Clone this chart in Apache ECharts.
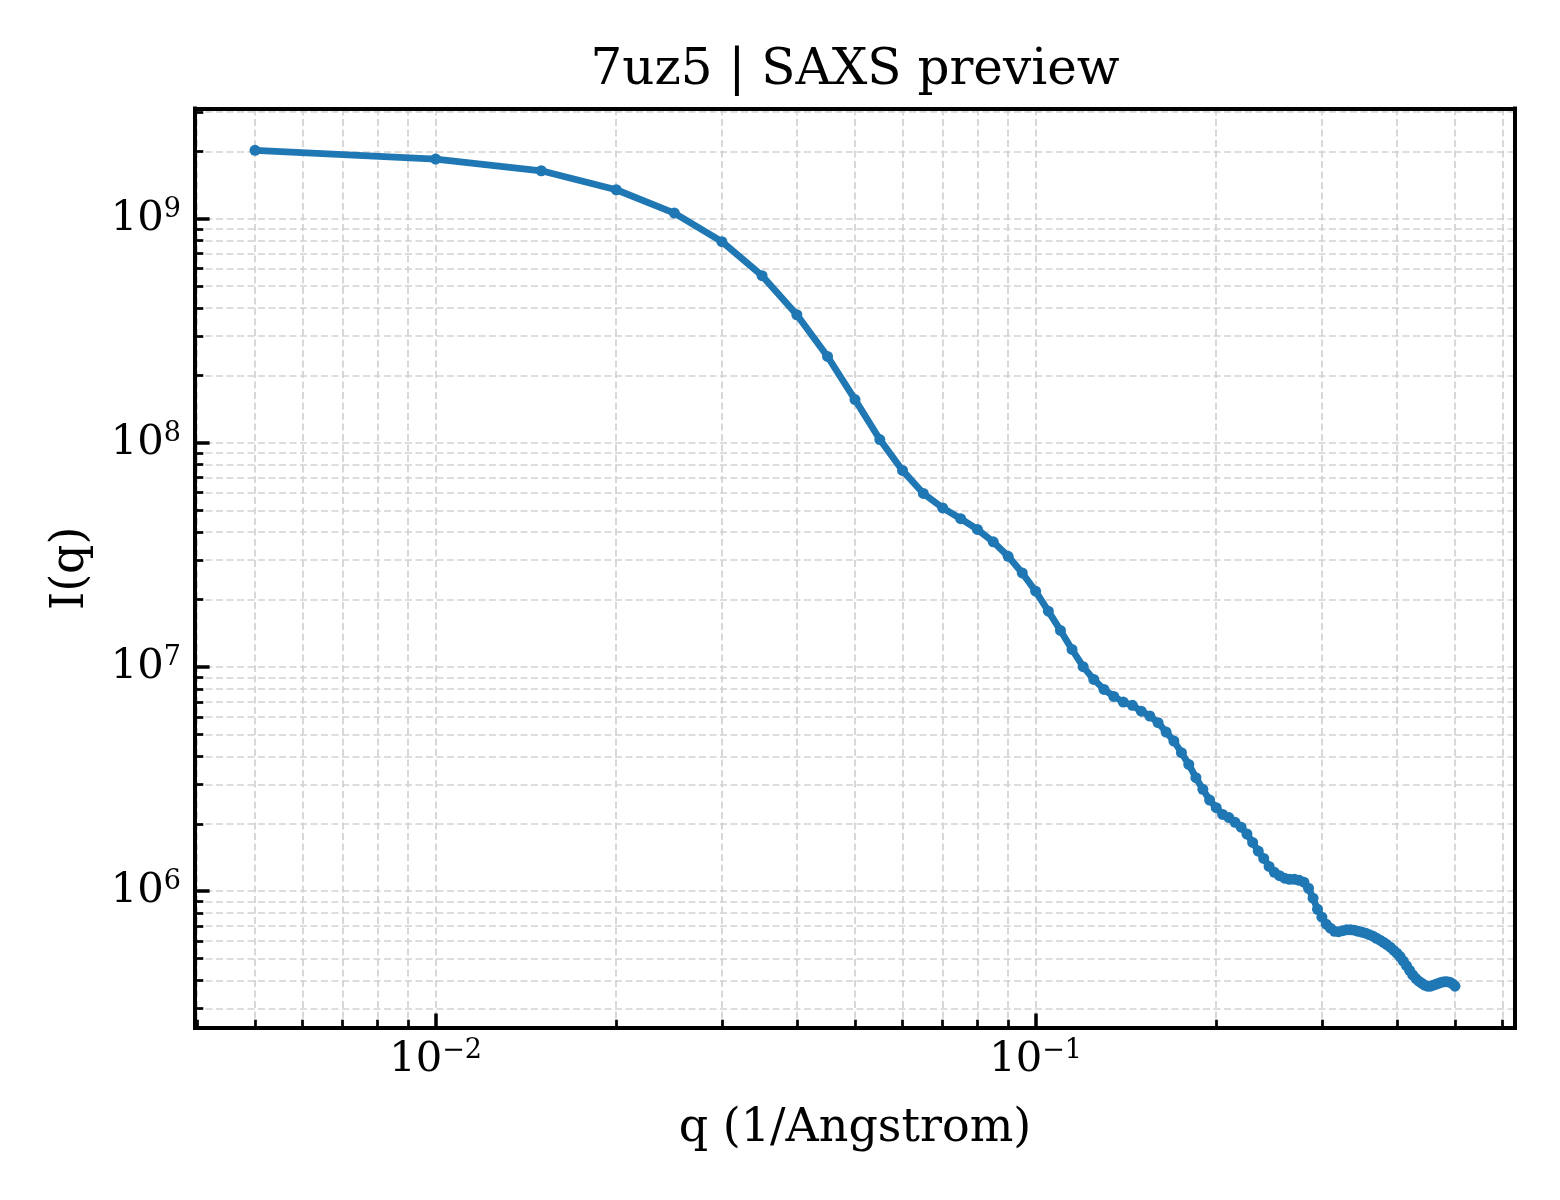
<!DOCTYPE html>
<html>
<head>
<meta charset="utf-8">
<script src="https://cdn.jsdelivr.net/npm/echarts@6/dist/echarts.min.js"></script>
<style>html,body{margin:0;padding:0;background:#fff}#chart{width:1560px;height:1200px}</style>
</head>
<body>
<div id="chart"></div>
<script>
// ---- data ----
const qValues = [
  0.005, 0.010, 0.015, 0.020, 0.025, 0.030, 0.035, 0.040, 0.045, 0.050,
  0.055, 0.060, 0.065, 0.070, 0.075, 0.080, 0.085, 0.090, 0.095, 0.100,
  0.105, 0.110, 0.115, 0.120, 0.125, 0.130, 0.135, 0.140, 0.145, 0.150,
  0.155, 0.160, 0.165, 0.170, 0.175, 0.180, 0.185, 0.190, 0.195, 0.200,
  0.205, 0.210, 0.215, 0.220, 0.225, 0.230, 0.235, 0.240, 0.245, 0.250,
  0.255, 0.260, 0.265, 0.270, 0.275, 0.280, 0.285, 0.290, 0.295, 0.300,
  0.305, 0.310, 0.315, 0.320, 0.325, 0.330, 0.335, 0.340, 0.345, 0.350,
  0.355, 0.360, 0.365, 0.370, 0.375, 0.380, 0.385, 0.390, 0.395, 0.400,
  0.405, 0.410, 0.415, 0.420, 0.425, 0.430, 0.435, 0.440, 0.445, 0.450,
  0.455, 0.460, 0.465, 0.470, 0.475, 0.480, 0.485, 0.490, 0.495, 0.500
];
const intensity = [
  2.02e9, 1.845e9, 1.637e9, 1.347e9, 1.060e9, 7.90e8, 5.57e8, 3.73e8, 2.43e8, 1.56e8,
  1.035e8, 7.54e7, 5.95e7, 5.13e7, 4.59e7, 4.11e7, 3.62e7, 3.12e7, 2.63e7, 2.18e7,
  1.776e7, 1.457e7, 1.198e7, 1.004e7, 8.81e6, 7.95e6, 7.40e6, 6.98e6, 6.75e6, 6.36e6,
  6.05e6, 5.65e6, 5.13e6, 4.68e6, 4.15e6, 3.68e6, 3.21e6, 2.85e6, 2.55e6, 2.36e6,
  2.20e6, 2.13e6, 2.03e6, 1.93e6, 1.80e6, 1.65e6, 1.51e6, 1.40e6, 1.29e6, 1.215e6,
  1.173e6, 1.143e6, 1.131e6, 1.131e6, 1.119e6, 1.097e6, 1.031e6, 9.31e5, 8.31e5, 7.66e5,
  7.13e5, 6.84e5, 6.63e5, 6.60e5, 6.67e5, 6.73e5, 6.73e5, 6.70e5, 6.63e5, 6.57e5,
  6.50e5, 6.40e5, 6.30e5, 6.17e5, 6.05e5, 5.92e5, 5.78e5, 5.63e5, 5.46e5, 5.29e5,
  5.11e5, 4.88e5, 4.66e5, 4.44e5, 4.24e5, 4.09e5, 3.97e5, 3.89e5, 3.81e5, 3.77e5,
  3.77e5, 3.81e5, 3.85e5, 3.89e5, 3.93e5, 3.95e5, 3.95e5, 3.93e5, 3.87e5, 3.77e5
];
const xMajorExponents = [-2, -1];
const yMajorExponents = [6, 7, 8, 9];
const minorMultipliers = [2, 3, 4, 5, 6, 7, 8, 9];
const chartTitle = '7uz5 | SAXS preview';
const xLabel = 'q (1/Angstrom)';
const yLabel = 'I(q)';

// ---- derived (log-space scale, like a log axis) ----
const logQ = qValues.map(Math.log10);
const logI = intensity.map(Math.log10);
function padded(arr) {
  const lo = Math.min(...arr), hi = Math.max(...arr), m = (hi - lo) * 0.05;
  return [lo - m, hi + m];
}
const [xMin, xMax] = padded(logQ);
const [yMin, yMax] = padded(logI);
function minorTicks(lo, hi) {
  const out = [];
  for (let e = Math.floor(lo); e <= Math.ceil(hi); e++) {
    for (const k of minorMultipliers) {
      const v = e + Math.log10(k);
      if (v >= lo && v <= hi) out.push(v);
    }
  }
  return out;
}
const xMinor = minorTicks(xMin, xMax);
const yMinor = minorTicks(yMin, yMax);

const FONT = "'DejaVu Serif', serif";
const gridStyle = { show: true, lineStyle: { color: '#d2d2d2', width: 1.7, type: [7, 3.5] } };
const spine = { show: true, onZero: false, lineStyle: { color: '#000', width: 4, cap: 'square' } };
const supRich = {
  b: { fontFamily: FONT, fontSize: 41.7, lineHeight: 42, color: '#000' },
  s: { fontFamily: FONT, fontSize: 27, lineHeight: 27, padding: [0, 0, 18, 0], color: '#000' }
};
function powLabel(v) {
  const n = Math.round(v);
  return '{b|10}{s|' + (n < 0 ? '\u2212' + (-n) : String(n)) + '}';
}

const chart = echarts.init(document.getElementById('chart'), null, { renderer: 'canvas' });
chart.setOption({
  animation: false,
  backgroundColor: '#fff',
  title: {
    text: chartTitle, left: 855, top: 46, textAlign: 'center', padding: 0,
    textStyle: { fontFamily: FONT, fontSize: 50, fontWeight: 'normal', color: '#000', lineHeight: 50 }
  },
  grid: { left: 195, right: 45, top: 108.5, bottom: 172, containLabel: false },
  xAxis: [
    {
      type: 'value', position: 'bottom', min: xMin, max: xMax,
      axisLine: spine,
      axisTick: { show: true, inside: true, length: 14.6, lineStyle: { color: '#000', width: 3.5 }, customValues: xMajorExponents },
      axisLabel: { show: true, margin: 11, customValues: xMajorExponents, formatter: powLabel, rich: supRich },
      splitLine: gridStyle,
      name: xLabel, nameLocation: 'middle', nameGap: 78,
      nameTextStyle: { fontFamily: FONT, fontSize: 46, color: '#000', lineHeight: 46 }
    },
    {
      type: 'value', position: 'bottom', min: xMin, max: xMax,
      axisLine: { show: false },
      axisTick: { show: true, inside: true, length: 8.3, lineStyle: { color: '#000', width: 2.7 }, customValues: xMinor },
      axisLabel: { show: false },
      splitLine: gridStyle
    },
    {
      type: 'value', position: 'top', min: xMin, max: xMax,
      axisLine: spine, axisTick: { show: false }, axisLabel: { show: false }, splitLine: { show: false }
    }
  ],
  yAxis: [
    {
      type: 'value', position: 'left', min: yMin, max: yMax,
      axisLine: spine,
      axisTick: { show: true, inside: true, length: 14.6, lineStyle: { color: '#000', width: 3.5 }, customValues: yMajorExponents },
      axisLabel: { show: true, margin: 14, customValues: yMajorExponents, formatter: powLabel, rich: supRich },
      splitLine: gridStyle,
      name: yLabel, nameLocation: 'middle', nameGap: 101,
      nameTextStyle: { fontFamily: FONT, fontSize: 46, color: '#000', lineHeight: 46 }
    },
    {
      type: 'value', position: 'left', min: yMin, max: yMax,
      axisLine: { show: false },
      axisTick: { show: true, inside: true, length: 8.3, lineStyle: { color: '#000', width: 2.7 }, customValues: yMinor },
      axisLabel: { show: false },
      splitLine: gridStyle
    },
    {
      type: 'value', position: 'right', min: yMin, max: yMax,
      axisLine: spine, axisTick: { show: false }, axisLabel: { show: false }, splitLine: { show: false }
    }
  ],
  series: [
    {
      type: 'line', xAxisIndex: 0, yAxisIndex: 0,
      data: logQ.map((x, i) => [x, logI[i]]),
      symbol: 'circle', symbolSize: 11, showSymbol: true, showAllSymbol: true,
      lineStyle: { color: '#1f77b4', width: 6.8 },
      itemStyle: { color: '#1f77b4' },
      emphasis: { disabled: true },
      z: 5
    }
  ]
});
</script>
</body>
</html>
